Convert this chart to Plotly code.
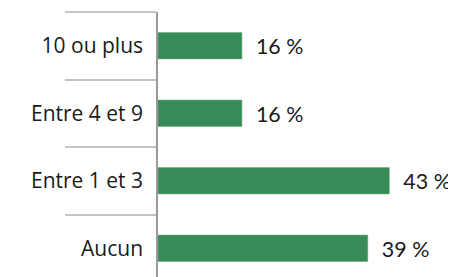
import plotly.graph_objects as go

categories = ["Aucun", "Entre 1 et 3", "Entre 4 et 9", "10 ou plus"]
values = [39, 43, 15.6, 15.6]
value_labels = ["39 %", "43 %", "16 %", "16 %"]

fig = go.Figure(go.Bar(
    y=categories,
    x=values,
    orientation="h",
    marker=dict(color="#378b56", line=dict(color="#6fa883", width=0.6)),
    text=["\u00a0\u00a0" + t for t in value_labels],
    textposition="outside",
    cliponaxis=False,
    textfont=dict(family="Lato", size=22, color="#1a1a1a"),
    width=0.39,
    hoverinfo="skip",
))

fig.update_layout(
    width=448, height=269,
    margin=dict(l=150, r=0, t=4, b=0, autoexpand=False),
    paper_bgcolor="white", plot_bgcolor="white",
    showlegend=False,
    xaxis=dict(range=[0, 55.4], visible=False, showgrid=False, zeroline=False),
    yaxis=dict(
        type="category",
        categoryorder="array", categoryarray=categories,
        range=[-0.426, 3.5],
        automargin=False,
        showgrid=False, zeroline=False,
        showline=True, linecolor="#9a9a9a", linewidth=1.5,
        ticks="outside", tickson="boundaries", ticklen=91, tickwidth=2,
        tickcolor="#c4c4c4",
        ticklabelstandoff=9,
        tickfont=dict(family="Open Sans", size=21, color="#1a1a1a"),
    ),
)

fig.write_html("out.html")
